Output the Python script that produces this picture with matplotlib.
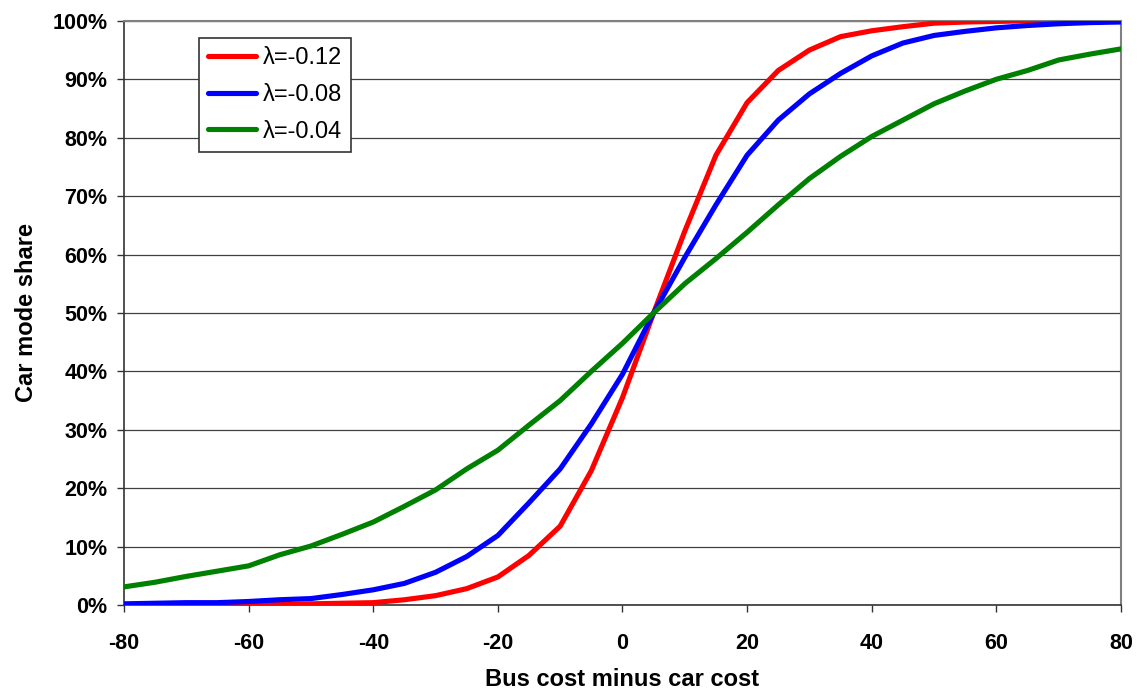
import matplotlib
matplotlib.use("Agg")
import matplotlib.pyplot as plt
from matplotlib.ticker import FuncFormatter

# ---------------------------------------------------------------------------
# Data (car mode share, %)
# ---------------------------------------------------------------------------
COST_DIFF = [-80, -75, -70, -65, -60, -55, -50, -45, -40, -35, -30, -25, -20,
             -15, -10, -5, 0, 5, 10, 15, 20, 25, 30, 35, 40, 45, 50, 55, 60,
             65, 70, 75, 80]

SHARE_L012 = [0.0, 0.0, 0.0, 0.0, 0.1, 0.1, 0.2, 0.3, 0.4, 0.9, 1.6, 2.8, 4.8,
              8.5, 13.5, 23.0, 35.5, 50.0, 64.0, 77.0, 86.0, 91.5, 95.0, 97.3,
              98.3, 99.0, 99.6, 99.8, 99.9, 100.0, 100.0, 100.0, 100.0]

SHARE_L008 = [0.2, 0.3, 0.4, 0.4, 0.6, 0.9, 1.1, 1.8, 2.6, 3.7, 5.6, 8.3, 11.9,
              17.5, 23.3, 31.0, 39.5, 50.0, 59.5, 68.5, 77.0, 83.0, 87.5, 91.0,
              94.0, 96.2, 97.5, 98.2, 98.8, 99.2, 99.5, 99.7, 99.8]

SHARE_L004 = [3.1, 3.9, 4.9, 5.8, 6.7, 8.6, 10.1, 12.1, 14.2, 16.9, 19.7, 23.3,
              26.5, 30.8, 35.0, 40.0, 44.8, 50.0, 55.0, 59.3, 63.8, 68.5, 73.0,
              76.8, 80.2, 83.0, 85.8, 88.0, 90.0, 91.5, 93.3, 94.3, 95.2]

SERIES = [
    ("\u03bb=-0.12", SHARE_L012, "#ff0000"),
    ("\u03bb=-0.08", SHARE_L008, "#0000ff"),
    ("\u03bb=-0.04", SHARE_L004, "#008000"),
]

plt.rcParams["font.family"] = ["Liberation Sans", "DejaVu Sans"]
plt.rcParams["axes.unicode_minus"] = False

fig = plt.figure(figsize=(11.38, 6.95), dpi=100)
ax = fig.add_axes([0.109, 0.1295, 0.876, 0.8405])

for label, vals, color in SERIES:
    ax.plot(COST_DIFF, vals, color=color, lw=3.7, label=label,
            solid_capstyle="round", zorder=3)

ax.set_xlim(-80, 80)
ax.set_ylim(0, 100)
ax.set_xticks(range(-80, 81, 20))
ax.set_yticks(range(0, 101, 10))
ax.yaxis.set_major_formatter(FuncFormatter(lambda v, _: f"{int(v)}%"))

ax.grid(axis="y", color="#404040", lw=0.9, zorder=1)
ax.set_axisbelow(True)

for side in ("top", "right"):
    ax.spines[side].set_color("#808080")
    ax.spines[side].set_linewidth(1.5)
for side in ("left", "bottom"):
    ax.spines[side].set_color("#333333")
    ax.spines[side].set_linewidth(1.2)

ax.tick_params(axis="both", direction="out", length=5, width=1,
               color="#333333", labelsize=15.5)
ax.tick_params(axis="y", pad=7)
ax.tick_params(axis="x", pad=15)
for lbl in ax.get_xticklabels() + ax.get_yticklabels():
    lbl.set_fontweight("bold")

ax.set_xlabel("Bus cost minus car cost", fontsize=17, fontweight="bold",
              labelpad=10)
ax.set_ylabel("Car mode share", fontsize=17, fontweight="bold", labelpad=10)

leg = ax.legend(loc="upper left", bbox_to_anchor=(0.0752, 0.971),
                fontsize=17, frameon=True, fancybox=False, framealpha=1,
                edgecolor="#333333", handlelength=2.0, handletextpad=0.3,
                borderpad=0.4, labelspacing=0.62, borderaxespad=0)
leg.get_frame().set_linewidth(1.2)

fig.savefig("out.png", dpi=100)
